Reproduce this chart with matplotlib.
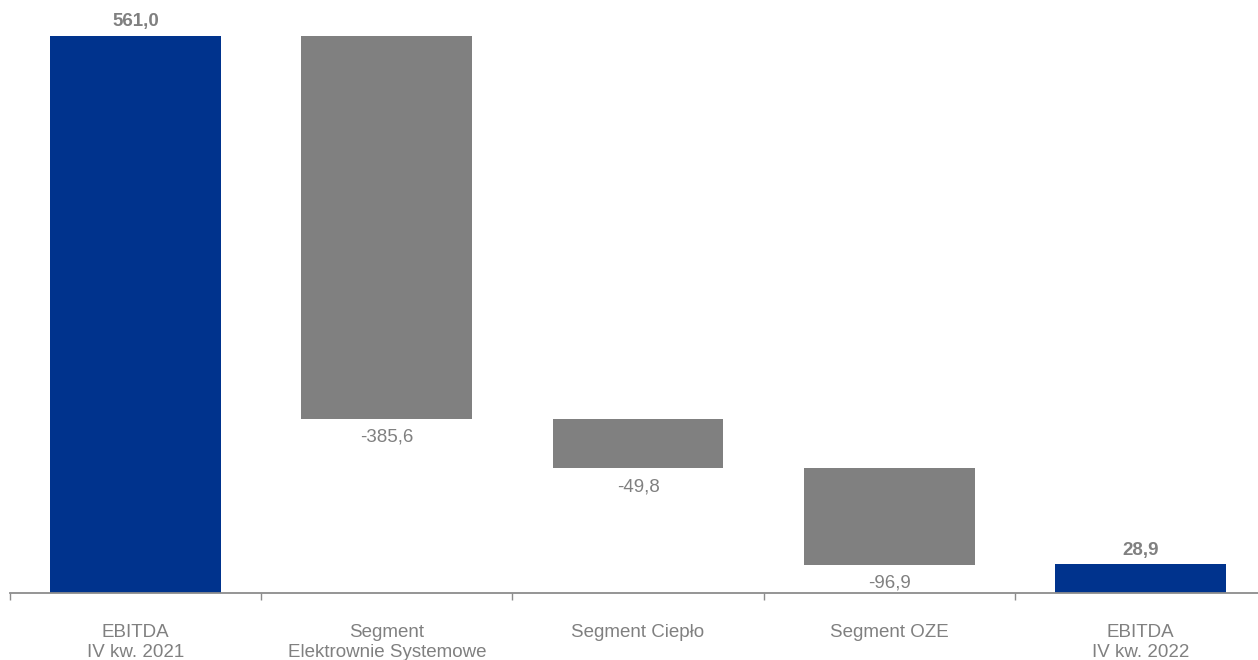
import matplotlib.pyplot as plt
import numpy as np

plt.rcParams['font.family'] = ['Liberation Sans', 'DejaVu Sans']

categories = ['EBITDA\nIV kw. 2021', 'Segment\nElektrownie Systemowe', 'Segment Ciepło',
              'Segment OZE', 'EBITDA\nIV kw. 2022']
values = [561.0, -385.6, -49.8, -96.9, 28.9]
is_total = [True, False, False, False, True]

blue = '#00338D'
grey = '#808080'
text_grey = '#808080'

W, H = 1258, 660
fig = plt.figure(figsize=(W / 100, H / 100), dpi=100)
ax = fig.add_axes([10 / W, 67 / H, 1256 / W, 593 / H])

# running totals for waterfall
bottoms = []
heights = []
running = 0.0
for v, t in zip(values, is_total):
    if t:
        bottoms.append(0.0)
        heights.append(v)
        running = v
    else:
        new = running + v
        bottoms.append(new)
        heights.append(-v)
        running = new

x = np.arange(len(categories))
colors = [blue if t else grey for t in is_total]
ax.bar(x, heights, bottom=bottoms, width=0.68, color=colors, linewidth=0)

fs = 13.5
for i, (v, t) in enumerate(zip(values, is_total)):
    lab = f'{v:.1f}'.replace('.', ',')
    if t:
        ax.annotate(lab, (x[i], bottoms[i] + heights[i]), xytext=(0, 4), textcoords='offset points',
                    ha='center', va='bottom', fontsize=fs, fontweight='bold', color=text_grey)
    else:
        ax.annotate(lab, (x[i], bottoms[i]), xytext=(0, -7), textcoords='offset points',
                    ha='center', va='top', fontsize=fs, color=text_grey)

ax.set_xlim(-0.5, len(categories) - 0.5)
ax.set_ylim(0, 593 / 0.9929)

for s in ['top', 'right', 'left']:
    ax.spines[s].set_visible(False)
ax.spines['bottom'].set_color('#8c8c8c')
ax.spines['bottom'].set_linewidth(1.3)
ax.set_yticks([])

ax.set_xticks(x)
ax.set_xticklabels(categories, fontsize=fs, color=text_grey, linespacing=1.3)
ax.tick_params(axis='x', which='major', length=0, pad=22)
ax.set_xticks(np.arange(-0.5, len(categories), 1.0), minor=True)
ax.tick_params(axis='x', which='minor', length=5, width=1, color='#8c8c8c')

fig.savefig('out.png', dpi=100)
